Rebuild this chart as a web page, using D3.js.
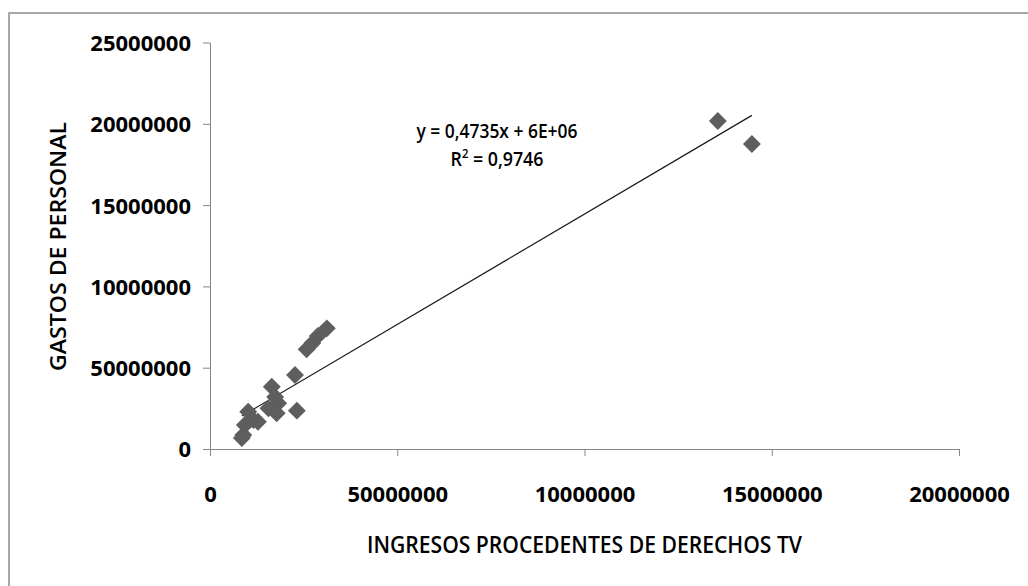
<!DOCTYPE html>
<html>
<head>
<meta charset="utf-8">
<script src="https://cdn.jsdelivr.net/npm/d3@7"></script>
<style>
  body { margin: 0; background: #fff; }
  svg text { font-family: "Open Sans", sans-serif; fill: #000; }
</style>
</head>
<body>
<div id="chart"></div>
<script>
// ingresos TV (x) and gastos de personal (y), in millions
var ingresos = [135.6, 144.7, 31.2, 28.8, 27.3, 25.8, 22.7, 16.5, 17.4, 18.2,
                15.6, 17.8, 23.2, 10.2, 11.6, 9.3, 12.8, 8.9, 8.5];
var gastos   = [201.7, 187.6, 74.2, 69.5, 65.0, 61.3, 45.5, 38.3, 32.0, 28.1,
                25.0, 22.0, 23.6, 22.9, 17.8, 14.8, 16.8, 8.6, 6.8];

var xTicks = [0, 50, 100, 150, 200];
var xTickLabels = ["0", "50000000", "10000000", "15000000", "20000000"];
var yTicks = [0, 50, 100, 150, 200, 250];
var yTickLabels = ["0", "50000000", "10000000", "15000000", "20000000", "25000000"];

var equation = "y = 0,4735x + 6E+06";
var r2Value = "0,9746";

var W = 1028, H = 586;
var margin = {top: 42.5, right: 69, bottom: 137, left: 210};
var width = W - margin.left - margin.right,
    height = H - margin.top - margin.bottom;

var x = d3.scaleLinear().domain([0, 200]).range([0, width]);
var y = d3.scaleLinear().domain([0, 250]).range([height, 0]);

var svg = d3.select("#chart").append("svg")
    .attr("width", W)
    .attr("height", H);

// outer frame (only top and left edges are visible)
svg.append("rect")
    .attr("x", 9).attr("y", 13)
    .attr("width", W + 20).attr("height", H + 20)
    .attr("fill", "none")
    .attr("stroke", "#8c8c8c")
    .attr("stroke-width", 1.5);

var g = svg.append("g")
    .attr("transform", "translate(" + margin.left + "," + margin.top + ")");

// axes
var xAxis = g.append("g")
    .attr("transform", "translate(0," + height + ")")
    .call(d3.axisBottom(x).tickValues(xTicks).tickSize(7).tickSizeOuter(0)
      .tickFormat(function(d, i) { return xTickLabels[i]; }));

var yAxis = g.append("g")
    .call(d3.axisLeft(y).tickValues(yTicks).tickSize(7).tickSizeOuter(0)
      .tickFormat(function(d, i) { return yTickLabels[i]; }));

[xAxis, yAxis].forEach(function(a) {
  a.select(".domain").attr("stroke", "#868686");
  a.selectAll(".tick line").attr("stroke", "#868686");
  a.selectAll(".tick text")
    .attr("font-family", "'Open Sans', sans-serif")
    .attr("font-size", 22)
    .attr("font-weight", "bold")
    .attr("fill", "#000");
});
xAxis.selectAll(".tick text").attr("y", 0).attr("dy", 0)
    .attr("transform", "translate(0,53)");
yAxis.selectAll(".tick text").attr("x", -19).attr("dy", "0.36em");

// linear fit
var mx = d3.mean(ingresos), my = d3.mean(gastos);
var sxy = d3.sum(ingresos, function(v, i) { return (v - mx) * (gastos[i] - my); });
var sxx = d3.sum(ingresos, function(v) { return (v - mx) * (v - mx); });
var slope = sxy / sxx, icpt = my - slope * mx;
var xr = d3.extent(ingresos);

g.append("line")
    .attr("x1", x(xr[0])).attr("y1", y(icpt + slope * xr[0]))
    .attr("x2", x(xr[1])).attr("y2", y(icpt + slope * xr[1]))
    .attr("stroke", "#1a1a1a")
    .attr("stroke-width", 1.2);

// points (diamonds)
var diamond = d3.symbol().type(d3.symbolSquare).size(160);
g.selectAll("path.pt")
    .data(ingresos)
    .enter()
    .append("path")
    .attr("class", "pt")
    .attr("d", diamond)
    .attr("transform", function(d, i) {
      return "translate(" + x(d) + "," + y(gastos[i]) + ") rotate(45)";
    })
    .attr("fill", "#5e5e5e");

// equation labels
svg.append("text")
    .attr("x", 497).attr("y", 138)
    .attr("text-anchor", "middle")
    .attr("font-size", 19)
    .attr("font-weight", 600)
    .attr("textLength", 161)
    .attr("lengthAdjust", "spacingAndGlyphs")
    .text(equation);

var r2 = svg.append("text")
    .attr("x", 497).attr("y", 166)
    .attr("text-anchor", "middle")
    .attr("font-size", 19)
    .attr("font-weight", 600)
    .attr("textLength", 93)
    .attr("lengthAdjust", "spacingAndGlyphs");
r2.append("tspan").text("R");
r2.append("tspan").attr("dy", -8).attr("font-size", 12).text("2");
r2.append("tspan").attr("dy", 8).text(" = " + r2Value);

// axis titles
svg.append("text")
    .attr("x", 584.5).attr("y", 553)
    .attr("text-anchor", "middle")
    .attr("font-size", 24)
    .attr("font-weight", 600)
    .attr("textLength", 435)
    .attr("lengthAdjust", "spacingAndGlyphs")
    .text("INGRESOS PROCEDENTES DE DERECHOS TV");

svg.append("text")
    .attr("transform", "translate(66,246.5) rotate(-90)")
    .attr("text-anchor", "middle")
    .attr("font-size", 21)
    .attr("font-weight", 600)
    .attr("textLength", 249)
    .attr("lengthAdjust", "spacingAndGlyphs")
    .text("GASTOS DE PERSONAL");
</script>
</body>
</html>
